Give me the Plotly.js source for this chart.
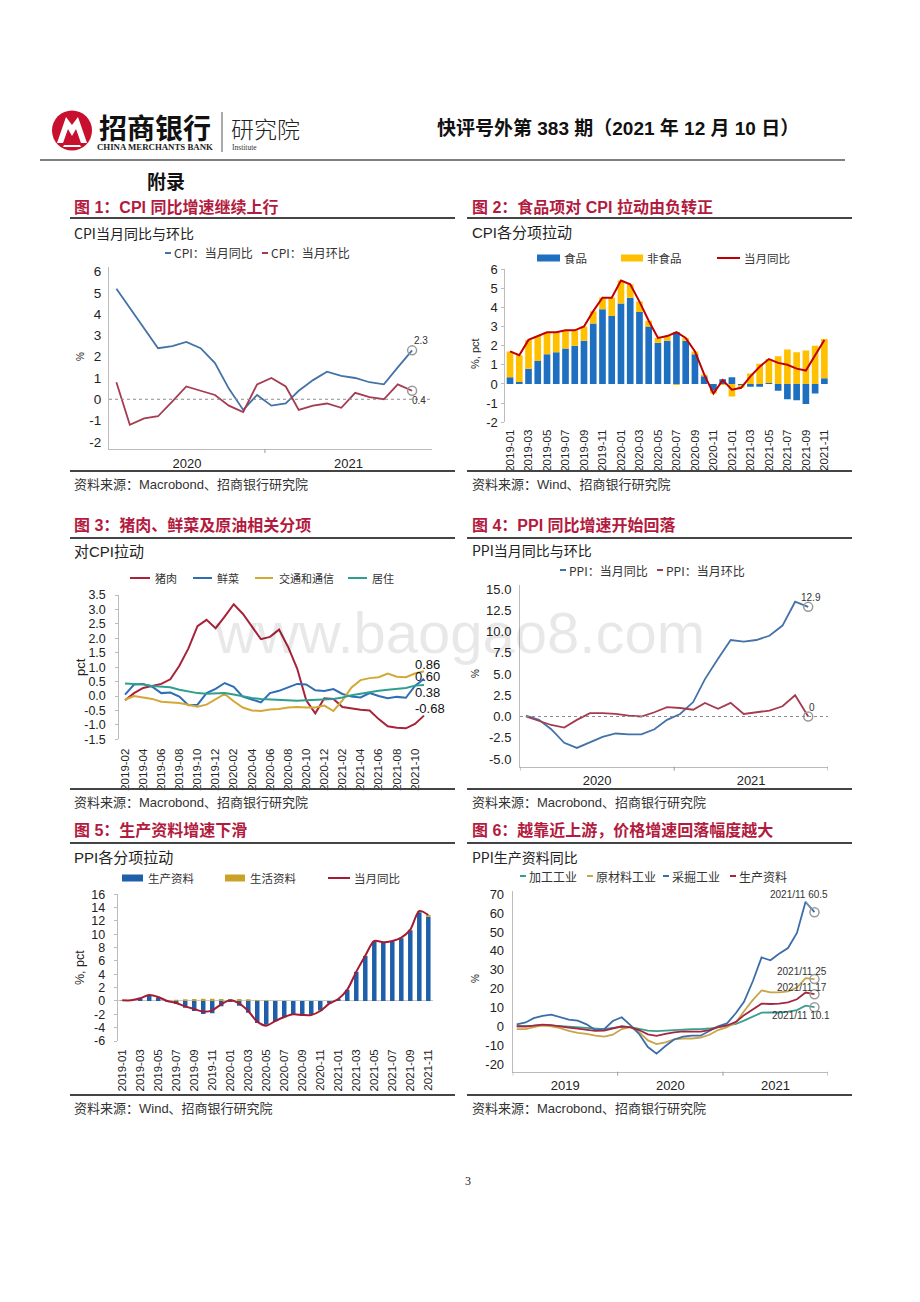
<!DOCTYPE html>
<html><head><meta charset="utf-8">
<script src="https://cdn.plot.ly/plotly-3.0.1.min.js"></script>
<style>html,body{margin:0;padding:0;background:#fff;}#page{width:920px;height:1302px;}</style>
</head><body><div id="page"></div>
<script>
// ---------------- DATA ----------------
// Fig 1: CPI YoY / MoM (Macrobond)
const cpiMonths = ['2020-02','2020-03','2020-04','2020-05','2020-06','2020-07','2020-08','2020-09','2020-10','2020-11','2020-12',
  '2021-01','2021-02','2021-03','2021-04','2021-05','2021-06','2021-07','2021-08','2021-09','2021-10','2021-11'];
const cpiYoY = [5.2,4.3,3.3,2.4,2.5,2.7,2.4,1.7,0.5,-0.5,0.2,-0.3,-0.2,0.4,0.9,1.3,1.1,1.0,0.8,0.7,1.5,2.3];
const cpiMoM = [0.8,-1.2,-0.9,-0.8,-0.1,0.6,0.4,0.2,-0.3,-0.6,0.7,1.0,0.6,-0.5,-0.3,-0.2,-0.4,0.3,0.1,0.0,0.7,0.4];

// Fig 2: CPI contributions (Wind)
const cpiCompMonths = ['2019-01','2019-02','2019-03','2019-04','2019-05','2019-06','2019-07','2019-08','2019-09','2019-10','2019-11','2019-12',
  '2020-01','2020-02','2020-03','2020-04','2020-05','2020-06','2020-07','2020-08','2020-09','2020-10','2020-11','2020-12',
  '2021-01','2021-02','2021-03','2021-04','2021-05','2021-06','2021-07','2021-08','2021-09','2021-10','2021-11'];
const cpiFood = [0.35,0.1,0.8,1.2,1.55,1.65,1.85,2.0,2.25,3.15,3.9,3.55,4.2,4.5,3.75,3.0,2.15,2.25,2.7,2.25,1.55,0.4,-0.35,0.25,
  0.35,-0.05,-0.15,-0.15,0.05,-0.35,-0.8,-0.85,-1.05,-0.5,0.3];
const cpiNonFood = [1.35,1.4,1.5,1.3,1.15,1.05,0.95,0.8,0.75,0.65,0.6,0.95,1.2,0.7,0.55,0.3,0.25,0.25,-0.05,0.15,0.15,0.1,-0.15,-0.05,
  -0.65,-0.15,0.55,1.05,1.25,1.45,1.8,1.65,1.75,2.0,2.05];
const cpiTotal = [1.7,1.5,2.3,2.5,2.7,2.7,2.8,2.8,3.0,3.8,4.5,4.5,5.4,5.2,4.3,3.3,2.4,2.5,2.7,2.4,1.7,0.5,-0.5,0.2,
  -0.3,-0.2,0.4,0.9,1.3,1.1,1.0,0.8,0.7,1.5,2.3];

// Fig 3: pork / vegetables / transport & communication / housing contribution
const pigMonths = ['2019-02','2019-03','2019-04','2019-05','2019-06','2019-07','2019-08','2019-09','2019-10','2019-11','2019-12',
  '2020-01','2020-02','2020-03','2020-04','2020-05','2020-06','2020-07','2020-08','2020-09','2020-10','2020-11','2020-12',
  '2021-01','2021-02','2021-03','2021-04','2021-05','2021-06','2021-07','2021-08','2021-09','2021-10','2021-11'];
const pork = [-0.15,0.1,0.28,0.35,0.42,0.58,1.05,1.65,2.42,2.64,2.35,2.75,3.18,2.85,2.4,1.97,2.05,2.3,1.7,0.95,-0.15,-0.6,-0.08,
  -0.1,-0.38,-0.43,-0.48,-0.5,-0.8,-1.05,-1.1,-1.12,-0.97,-0.68];
const vegetables = [0.05,0.4,0.42,0.32,0.1,0.12,-0.02,-0.32,-0.3,0.1,0.25,0.45,0.32,-0.02,-0.12,-0.22,0.1,0.18,0.3,0.42,0.4,0.2,0.17,
  0.24,0.07,-0.02,-0.05,0.1,0.0,-0.08,-0.03,-0.06,0.35,0.6];
const transport = [-0.13,0.0,-0.05,-0.1,-0.2,-0.22,-0.24,-0.3,-0.37,-0.3,-0.1,0.07,-0.18,-0.4,-0.5,-0.52,-0.47,-0.45,-0.4,-0.38,-0.4,-0.4,-0.33,
  -0.52,-0.15,0.3,0.55,0.62,0.65,0.78,0.67,0.65,0.78,0.86];
const housing = [0.43,0.42,0.4,0.35,0.32,0.3,0.22,0.15,0.1,0.08,0.1,0.1,0.05,-0.02,-0.07,-0.1,-0.12,-0.14,-0.15,-0.16,-0.15,-0.13,-0.12,
  -0.1,-0.05,0.03,0.08,0.14,0.18,0.22,0.24,0.28,0.36,0.38];

// Fig 4: PPI YoY / MoM
const ppiMonths = ['2020-01','2020-02','2020-03','2020-04','2020-05','2020-06','2020-07','2020-08','2020-09','2020-10','2020-11','2020-12',
  '2021-01','2021-02','2021-03','2021-04','2021-05','2021-06','2021-07','2021-08','2021-09','2021-10','2021-11'];
const ppiYoY = [0.1,-0.4,-1.5,-3.1,-3.7,-3.0,-2.4,-2.0,-2.1,-2.1,-1.5,-0.4,0.3,1.7,4.4,6.8,9.0,8.8,9.0,9.5,10.7,13.5,12.9];
const ppiMoM = [0.0,-0.5,-1.0,-1.3,-0.4,0.4,0.4,0.3,0.1,0.0,0.5,1.1,1.0,0.8,1.6,0.9,1.6,0.3,0.5,0.7,1.2,2.5,0.0];

// Fig 5: PPI contributions
const ppiCompMonths = cpiCompMonths;
const ppiProducer = [0.05,0.0,0.3,0.75,0.45,-0.1,-0.45,-1.0,-1.5,-1.95,-1.85,-0.8,-0.15,-0.7,-1.75,-3.3,-3.55,-3.05,-2.45,-2.0,-2.05,-2.05,-1.4,-0.3,
  0.3,1.7,4.4,6.75,8.95,8.75,8.95,9.4,10.6,13.3,12.65];
const ppiConsumer = [0.05,0.1,0.1,0.15,0.15,0.1,0.2,0.25,0.3,0.35,0.35,0.3,0.3,0.3,0.25,0.15,0.1,0.05,0.05,0.0,-0.05,-0.05,-0.1,-0.1,
  0.0,0.0,0.0,0.05,0.05,0.05,0.05,0.1,0.1,0.2,0.25];
const ppiTotal = [0.1,0.1,0.4,0.9,0.6,0.0,-0.3,-0.8,-1.2,-1.6,-1.4,-0.5,0.1,-0.4,-1.5,-3.1,-3.7,-3.0,-2.4,-2.0,-2.1,-2.1,-1.5,-0.4,
  0.3,1.7,4.4,6.8,9.0,8.8,9.0,9.5,10.7,13.5,12.9];

// Fig 6: PPI producer goods by industry
const upMonths = cpiCompMonths;
const processing = [0.0,0.0,0.3,0.6,0.5,0.1,-0.2,-0.6,-1.0,-1.5,-1.5,-0.8,-0.3,-0.5,-1.2,-2.3,-2.6,-2.3,-1.9,-1.6,-1.5,-1.5,-1.2,-0.5,
  0.3,1.2,3.0,5.0,7.2,7.3,7.3,7.8,8.6,10.9,10.1];
const rawMaterial = [-1.5,-1.5,-0.5,0.5,0.0,-1.0,-2.5,-3.5,-4.0,-5.0,-5.5,-4.5,-1.5,-0.5,-3.0,-7.5,-9.5,-8.5,-7.0,-6.5,-6.5,-6.0,-4.5,-2.0,
  -0.5,2.0,8.0,14.0,19.0,18.0,18.0,18.5,20.5,25.5,25];
const mining = [1.0,2.0,4.3,5.5,6.2,5.0,3.5,3.0,1.0,-2.0,-1.5,2.8,4.8,0.5,-4.0,-11.0,-14.5,-10.5,-7.0,-5.5,-5.0,-5.0,-2.5,0.0,
  1.5,7.0,13.0,24.0,36.5,35.0,38.5,41.5,49.5,66.0,60.5];
const producerGoods = [0.0,-0.2,0.3,0.9,0.6,-0.2,-0.7,-1.3,-1.8,-2.5,-2.3,-1.0,0.0,-0.6,-2.0,-4.3,-5.1,-4.1,-3.2,-2.7,-2.7,-2.8,-2.0,-0.5,
  0.4,2.3,5.9,9.1,12.0,11.8,12.0,12.7,14.3,17.9,17];

// tick values
const yTicks1 = [-2,-1,0,1,2,3,4,5,6];
const yTicks2 = [-2,-1,0,1,2,3,4,5,6];
const yTicks3 = [-1.5,-1,-0.5,0,0.5,1,1.5,2,2.5,3,3.5];
const yTicks4 = [-5,-2.5,0,2.5,5,7.5,10,12.5,15];
const yTicks5 = [-6,-4,-2,0,2,4,6,8,10,12,14,16];
const yTicks6 = [-20,-10,0,10,20,30,40,50,60,70];

// ---------------- HELPERS ----------------
const W = 920, H = 1302;
const X = v => v / W, Y = v => 1 - v / H;
const SANS = '"Liberation Sans", Arial, "Noto Sans CJK SC", sans-serif';
const CJK = '"Noto Sans CJK SC", "Liberation Sans", sans-serif';
const RED = '#B31B3E';
const ann = [], shp = [], data = [];
const mid = m => m + '-15';

function text(t, x, y, o = {}) {
  ann.push({xref:'paper', yref:'paper', x:X(x), y:Y(y), text:t, showarrow:false,
    xanchor:o.xa || 'left', yanchor:o.ya || 'middle', textangle:o.angle || 0,
    font:{family:o.family || CJK, size:o.size || 12, color:o.color || '#222', weight:o.weight || 'normal'}});
}
function hline(x0, x1, y, color, w) {
  shp.push({type:'line', xref:'paper', yref:'paper', x0:X(x0), x1:X(x1), y0:Y(y), y1:Y(y), line:{color:color, width:w}});
}
function legRect(x0, x1, y, color) {
  shp.push({type:'rect', xref:'paper', yref:'paper', x0:X(x0), x1:X(x1), y0:Y(y + 3.5), y1:Y(y - 3.5), fillcolor:color, line:{width:0}});
}
function legLine(x0, x1, y, color, w) { hline(x0, x1, y, color, w || 2); }
function pathOf(pts) {
  return pts.map((p, i) => (i ? 'L' : 'M') + X(p[0]).toFixed(5) + ',' + Y(p[1]).toFixed(5)).join(' ') + ' Z';
}
function ms(s) { const [y, m, d] = s.split('-').map(Number); return Date.UTC(y, m - 1, d); }
function ds(t) { const s = new Date(t).toISOString(); return s.slice(0, 10) + ' ' + s.slice(11, 19); }
// year labels centred in the visible part of each year + separator ticks at year boundaries
function yearAxis(range, xref, yref) {
  const a = ms(range[0]), b = ms(range[1]);
  const y0 = new Date(a).getUTCFullYear(), y1 = new Date(b).getUTCFullYear();
  const vals = [], txt = [];
  for (let yr = y0; yr <= y1; yr++) {
    const s = Math.max(a, Date.UTC(yr, 0, 1)), e = Math.min(b, Date.UTC(yr + 1, 0, 1));
    if (e - s > 20 * 86400000) { vals.push(ds((s + e) / 2)); txt.push(String(yr)); }
    const bd = Date.UTC(yr, 0, 1);
    if (bd >= a && bd <= b) shp.push({type:'line', xref:xref, yref:yref + ' domain', ysizemode:'pixel', yanchor:0, y0:0, y1:-4,
      x0:ds(bd), x1:ds(bd), line:{color:'#999', width:1}});
    const bd2 = Date.UTC(yr + 1, 0, 1);
    if (yr === y1 && bd2 <= b) shp.push({type:'line', xref:xref, yref:yref + ' domain', ysizemode:'pixel', yanchor:0, y0:0, y1:-4,
      x0:ds(bd2), x1:ds(bd2), line:{color:'#999', width:1}});
  }
  return {vals, txt};
}
function fmt(v, d) { return d ? v.toFixed(d) : String(v); }
const TF = s => ({family:SANS, size:s, color:'#222'});

function yAxis(top, bot, range, ticks, dec, anchor, o = {}) {
  return {domain:[Y(bot), Y(top)], anchor:anchor, range:range, tickmode:'array', tickvals:ticks,
    ticktext:ticks.map(v => fmt(v, dec)), showline:true, linecolor:o.lc || '#bcbcbc', linewidth:1,
    ticks:o.ticks || '', ticklen:o.tl || 0, tickcolor:'#bcbcbc', showgrid:false, zeroline:!!o.zero,
    zerolinecolor:'#c8c8c8', zerolinewidth:1, tickfont:TF(o.fs || 13), ticklabelstandoff:o.so || 0, fixedrange:true};
}
function dateAxis(left, right, range, anchor, yref, o = {}) {
  const xa = 'x' + anchor.slice(1);
  const yt = yearAxis(range, xa, yref);
  return {domain:[X(left), X(right)], anchor:anchor, type:'date', range:range, tickmode:'array', tickvals:yt.vals, ticktext:yt.txt,
    ticks:'', showline:true, linecolor:'#bcbcbc', linewidth:1, showgrid:false, zeroline:false, tickfont:TF(o.fs || 13),
    ticklabelstandoff:o.so || 2, fixedrange:true};
}
function catAxis(left, right, range, cats, anchor, o = {}) {
  return {domain:[X(left), X(right)], anchor:anchor, type:'category', range:range, tickmode:'array',
    tickvals:cats.filter((c, i) => i % 2 === 0), tickangle:-90, ticks:'', showline:false, showgrid:false, zeroline:false,
    tickfont:TF(o.fs || 11.5), ticklabelstandoff:o.so || 2, fixedrange:true};
}
function endMark(xa, ya, x, y) {
  data.push({type:'scatter', mode:'markers', x:[x], y:[y], xaxis:xa, yaxis:ya,
    marker:{symbol:'circle-open', size:9, color:'#9a9a9a', line:{width:1.5}}, hoverinfo:'skip'});
}
function dataLabel(xa, ya, x, y, t, xs, ys, size) {
  ann.push({xref:xa, yref:ya, x:x, y:y, text:t, showarrow:false, xshift:xs, yshift:ys,
    font:{family:SANS, size:size || 10, color:'#333'}});
}
function zeroDash(xa, ya) {
  shp.push({type:'line', xref:xa + ' domain', yref:ya, x0:0, x1:1, y0:0, y1:0, line:{color:'#8c8c8c', width:1, dash:'dot'}});
}

// ---------------- PAGE HEADER ----------------
shp.push({type:'circle', xref:'paper', yref:'paper', x0:X(52), x1:X(92), y0:Y(150.5), y1:Y(110.5), fillcolor:'#C8102E', line:{width:0}});
shp.push({type:'path', xref:'paper', yref:'paper', path:pathOf([[57,143],[66,117],[72,125],[78,117],[87,143],[81,143],[76,129],[72,136],[68,129],[63,143]]),
  fillcolor:'#ffffff', line:{width:0}});
shp.push({type:'path', xref:'paper', yref:'paper', path:pathOf([[63,147],[81,147],[80,145],[64,145]]), fillcolor:'#ffffff', line:{width:0}});
text('招商银行', 155, 127, {xa:'center', size:28, weight:'bold', color:'#111'});
text('CHINA MERCHANTS BANK', 155, 147, {xa:'center', size:8.8, weight:'bold', family:'"Liberation Serif", serif', color:'#222'});
shp.push({type:'line', xref:'paper', yref:'paper', x0:X(222), x1:X(222), y0:Y(112), y1:Y(152), line:{color:'#555', width:1}});
text('研究院', 265, 128, {xa:'center', size:23, color:'#222', weight:300});
text('Institute', 230, 147, {size:7.5, family:'"Liberation Serif", serif', color:'#333'});
text('快评号外第 383 期（2021 年 12 月 10 日）', 435, 128, {size:19, weight:'bold', family:SANS, color:'#111'});
hline(40, 845, 160, '#555', 1.5);
text('附录', 145, 181, {size:19, weight:'bold', color:'#111'});

// panel frames: titles, rules and sources
const cols = [{l:70, r:455, tx:72}, {l:467, r:852, tx:470}];
const rows = [{t:207, rule:218, src:471, st:485}, {t:525, rule:538, src:789, st:802}, {t:830, rule:843, src:1095, st:1108}];
const titles = [['图 1：CPI 同比增速继续上行','图 2：食品项对 CPI 拉动由负转正'],
                ['图 3：猪肉、鲜菜及原油相关分项','图 4：PPI 同比增速开始回落'],
                ['图 5：生产资料增速下滑','图 6：越靠近上游，价格增速回落幅度越大']];
const sources = [['资料来源：Macrobond、招商银行研究院','资料来源：Wind、招商银行研究院'],
                 ['资料来源：Macrobond、招商银行研究院','资料来源：Macrobond、招商银行研究院'],
                 ['资料来源：Wind、招商银行研究院','资料来源：Macrobond、招商银行研究院']];
rows.forEach((rw, i) => cols.forEach((c, j) => {
  text(titles[i][j], c.tx, rw.t, {size:16, weight:'bold', color:RED, family:SANS});
  hline(c.l, c.r, rw.rule, '#444', 1.8);
  hline(c.l, c.r, rw.src, '#444', 1.8);
  text(sources[i][j], c.tx, rw.st, {size:13, color:'#333', family:SANS});
}));

// ---------------- FIG 1 ----------------
const C1B = '#4472A8', C1R = '#A53B4F';
data.push({type:'scatter', mode:'lines', x:cpiMonths.map(mid), y:cpiYoY, xaxis:'x', yaxis:'y', line:{color:C1B, width:1.8}});
data.push({type:'scatter', mode:'lines', x:cpiMonths.map(mid), y:cpiMoM, xaxis:'x', yaxis:'y', line:{color:C1R, width:1.8}});
zeroDash('x', 'y');
const l1 = mid(cpiMonths[cpiMonths.length - 1]);
endMark('x', 'y', l1, cpiYoY[cpiYoY.length - 1]);
endMark('x', 'y', l1, cpiMoM[cpiMoM.length - 1]);
dataLabel('x', 'y', l1, cpiYoY[cpiYoY.length - 1], String(cpiYoY[cpiYoY.length - 1]), 9, 10);
dataLabel('x', 'y', l1, cpiMoM[cpiMoM.length - 1], String(cpiMoM[cpiMoM.length - 1]), 7, -10);
text('CPI当月同比与环比', 72, 233, {size:14, color:'#222'});
legLine(165, 171, 253, C1B, 2); text('CPI：当月同比', 172, 253, {size:12, color:'#333'});
legLine(262, 268, 253, C1R, 2); text('CPI：当月环比', 269, 253, {size:12, color:'#333'});
text('%', 80, 357, {xa:'center', angle:-90, size:10, family:SANS});

// ---------------- FIG 2 ----------------
data.push({type:'bar', x:cpiCompMonths, y:cpiFood, xaxis:'x2', yaxis:'y2', marker:{color:'#1F6FC0'}, width:0.72});
data.push({type:'bar', x:cpiCompMonths, y:cpiNonFood, xaxis:'x2', yaxis:'y2', marker:{color:'#FFC000'}, width:0.72});
data.push({type:'scatter', mode:'lines', x:cpiCompMonths, y:cpiTotal, xaxis:'x2', yaxis:'y2', line:{color:'#C00000', width:2}});
text('CPI各分项拉动', 470, 233, {size:15, family:SANS});
legRect(537, 560, 258, '#1F6FC0'); text('食品', 562, 258, {size:11.5, color:'#333'});
legRect(621, 643, 258, '#FFC000'); text('非食品', 645, 258, {size:11.5, color:'#333'});
legLine(717, 740, 258, '#C00000', 2); text('当月同比', 742, 258, {size:11.5, color:'#333'});
text('%, pct', 475, 353, {xa:'center', angle:-90, size:11, family:SANS});

// ---------------- FIG 3 ----------------
const C3 = {pork:'#A8233A', veg:'#2F6EB5', tr:'#D4A838', ho:'#2E9E8E'};
[[pork, C3.pork], [vegetables, C3.veg], [transport, C3.tr], [housing, C3.ho]].forEach(s =>
  data.push({type:'scatter', mode:'lines', x:pigMonths, y:s[0], xaxis:'x3', yaxis:'y3', line:{color:s[1], width:2}}));
const l3 = pigMonths[pigMonths.length - 1];
[[transport, 7], [vegetables, 2], [housing, -7], [pork, 7]].forEach(s => {
  const v = s[0][s[0].length - 1];
  ann.push({xref:'x3', yref:'y3', x:l3, y:v, text:v.toFixed(2), showarrow:false, xanchor:'left', xshift:-11, yshift:s[1],
    font:{family:SANS, size:13, color:'#111'}});
});
text('对CPI拉动', 72, 551, {size:15, family:SANS});
legLine(130, 150, 578, C3.pork); text('猪肉', 153, 578, {size:11, color:'#333'});
legLine(193, 212, 578, C3.veg); text('鲜菜', 215, 578, {size:11, color:'#333'});
legLine(255, 273, 578, C3.tr); text('交通和通信', 277, 578, {size:11, color:'#333'});
legLine(348, 367, 578, C3.ho); text('居住', 370, 578, {size:11, color:'#333'});
text('pct', 80, 667, {xa:'center', angle:-90, size:13, family:SANS});

// ---------------- FIG 4 ----------------
data.push({type:'scatter', mode:'lines', x:ppiMonths.map(mid), y:ppiYoY, xaxis:'x4', yaxis:'y4', line:{color:C1B, width:1.8}});
data.push({type:'scatter', mode:'lines', x:ppiMonths.map(mid), y:ppiMoM, xaxis:'x4', yaxis:'y4', line:{color:C1R, width:1.8}});
zeroDash('x4', 'y4');
const l4 = mid(ppiMonths[ppiMonths.length - 1]);
endMark('x4', 'y4', l4, ppiYoY[ppiYoY.length - 1]);
endMark('x4', 'y4', l4, ppiMoM[ppiMoM.length - 1]);
dataLabel('x4', 'y4', l4, ppiYoY[ppiYoY.length - 1], String(ppiYoY[ppiYoY.length - 1]), 3, 9);
dataLabel('x4', 'y4', l4, ppiMoM[ppiMoM.length - 1], String(ppiMoM[ppiMoM.length - 1]), 4, 9);
text('PPI当月同比与环比', 470, 550, {size:14});
legLine(560, 566, 570, C1B, 2); text('PPI：当月同比', 567, 570, {size:12, color:'#333'});
legLine(657, 663, 570, C1R, 2); text('PPI：当月环比', 664, 570, {size:12, color:'#333'});
text('%', 475, 673, {xa:'center', angle:-90, size:10, family:SANS});

// ---------------- FIG 5 ----------------
data.push({type:'bar', x:ppiCompMonths, y:ppiProducer, xaxis:'x5', yaxis:'y5', marker:{color:'#1F5FAA'}, width:0.5});
data.push({type:'bar', x:ppiCompMonths, y:ppiConsumer, xaxis:'x5', yaxis:'y5', marker:{color:'#C9A227'}, width:0.5});
data.push({type:'scatter', mode:'lines', x:ppiCompMonths, y:ppiTotal, xaxis:'x5', yaxis:'y5', line:{color:'#A41C34', width:2, shape:'spline', smoothing:0.8}});
text('PPI各分项拉动', 72, 857, {size:15, family:SANS});
legRect(122, 143, 878, '#1F5FAA'); text('生产资料', 146, 878, {size:11.5, color:'#333'});
legRect(225, 245, 878, '#C9A227'); text('生活资料', 248, 878, {size:11.5, color:'#333'});
legLine(328, 350, 878, '#A41C34', 2); text('当月同比', 352, 878, {size:11.5, color:'#333'});
text('%, pct', 80, 968, {xa:'center', angle:-90, size:12.5, family:SANS});

// ---------------- FIG 6 ----------------
const C6 = {pr:'#3A9E8F', raw:'#C8A54C', mi:'#3B6EA8', pg:'#A3283F'};
[[processing, C6.pr], [rawMaterial, C6.raw], [mining, C6.mi], [producerGoods, C6.pg]].forEach(s =>
  data.push({type:'scatter', mode:'lines', x:upMonths.map(mid), y:s[0], xaxis:'x6', yaxis:'y6', line:{color:s[1], width:1.8}}));
const lm6 = upMonths[upMonths.length - 1], l6 = mid(lm6), lab6 = lm6.replace('-', '/');
[mining, rawMaterial, producerGoods, processing].forEach(s => endMark('x6', 'y6', l6, s[s.length - 1]));
ann.push({xref:'x6', yref:'y6', x:l6, y:mining[mining.length - 1], text:lab6 + ' ' + mining[mining.length - 1], showarrow:true,
  ax:-15, ay:-18, arrowhead:0, arrowwidth:1, arrowcolor:'#aaa', standoff:6, font:{family:SANS, size:10, color:'#333'}});
dataLabel('x6', 'y6', l6, rawMaterial[rawMaterial.length - 1], lab6 + ' ' + rawMaterial[rawMaterial.length - 1], -12, 8);
dataLabel('x6', 'y6', l6, producerGoods[producerGoods.length - 1], lab6 + ' ' + producerGoods[producerGoods.length - 1], -12, 7);
dataLabel('x6', 'y6', l6, processing[processing.length - 1], lab6 + ' ' + processing[processing.length - 1], -13, -8);
text('PPI生产资料同比', 470, 857, {size:14});
legLine(520, 526, 876, C6.pr, 2); text('加工工业', 527, 876, {size:12, color:'#333'});
legLine(587, 593, 876, C6.raw, 2); text('原材料工业', 594, 876, {size:12, color:'#333'});
legLine(663, 669, 876, C6.mi, 2); text('采掘工业', 670, 876, {size:12, color:'#333'});
legLine(730, 736, 876, C6.pg, 2); text('生产资料', 737, 876, {size:12, color:'#333'});
text('%', 475, 978, {xa:'center', angle:-90, size:10, family:SANS});

// watermark & page number
text('www.baogao8.com', 459, 633, {xa:'center', size:58, family:SANS, color:'rgba(0,0,0,0.09)'});
text('3', 468, 1181, {xa:'center', size:12, family:'"Liberation Serif", serif', color:'#222'});

// ---------------- LAYOUT ----------------
const layout = {
  width:W, height:H, margin:{l:0, r:0, t:0, b:0}, paper_bgcolor:'#ffffff', plot_bgcolor:'rgba(0,0,0,0)',
  showlegend:false, barmode:'relative', hovermode:false, font:{family:SANS},
  xaxis:  dateAxis(109, 432, ['2020-01-30', '2021-12-28'], 'y', 'y', {fs:13}),
  yaxis:  yAxis(267, 449, [-2.34, 6.22], yTicks1, 0, 'x', {fs:13.5, so:4}),
  xaxis2: catAxis(505.4, 829, [-0.5, 34.5], cpiCompMonths, 'y2', {so:4}),
  yaxis2: yAxis(269, 422.3, [-2, 6], yTicks2, 0, 'x2', {ticks:'outside', tl:3, so:1}),
  xaxis3: catAxis(119.3, 425, [-0.63, 33.11], pigMonths, 'y3', {so:6}),
  yaxis3: yAxis(595, 739.3, [-1.5, 3.5], yTicks3, 1, 'x3', {ticks:'outside', tl:3, so:7, fs:12.5}),
  xaxis4: dateAxis(520, 828, ['2020-01-01', '2022-01-01'], 'y4', 'y4', {fs:13}),
  yaxis4: yAxis(585, 766.7, [-5.906, 15.47], yTicks4, 1, 'x4', {so:5, fs:13}),
  xaxis5: catAxis(117.7, 432.8, [-0.5, 34.5], ppiCompMonths, 'y5', {so:5}),
  yaxis5: yAxis(894.3, 1041, [-6, 16], yTicks5, 0, 'x5', {ticks:'outside', tl:3, so:6, fs:12.5, zero:true}),
  xaxis6: dateAxis(512.7, 828, ['2019-01-01', '2022-01-01'], 'y6', 'y6', {fs:13}),
  yaxis6: yAxis(890.5, 1071.7, [-24.1, 72], yTicks6, 0, 'x6', {so:5, fs:13}),
  annotations:ann, shapes:shp
};
Plotly.newPlot('page', data, layout, {staticPlot:true, displayModeBar:false});
</script></body></html>
